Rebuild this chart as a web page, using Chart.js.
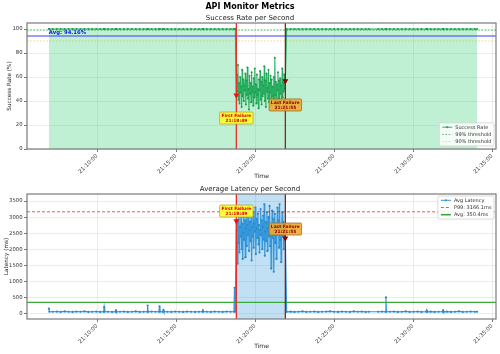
<!DOCTYPE html>
<html><head><meta charset="utf-8">
<script src="https://cdn.jsdelivr.net/npm/chart.js@4.4.0/dist/chart.umd.min.js"></script>
<style>
html,body{margin:0;padding:0;background:#fff;width:500px;height:354px;overflow:hidden;}
canvas{position:absolute;left:0;}
.t{position:absolute;left:0;width:500px;text-align:center;font-family:"DejaVu Sans";color:#000;white-space:nowrap;}
</style></head><body>
<canvas id="c1" width="500" height="180" style="top:0"></canvas>
<canvas id="c2" width="500" height="174" style="top:180px"></canvas>
<div class="t" style="top:2px;font-size:8px;line-height:9px;font-weight:bold;">API Monitor Metrics</div>
<div class="t" style="top:13.5px;font-size:7px;line-height:8px;color:#222;">Success Rate per Second</div>
<div class="t" style="top:184.5px;font-size:7px;line-height:8px;color:#222;">Average Latency per Second</div>
<script>
// ---- data (seconds after 21:00:00) ----
const tickValues = [600, 900, 1200, 1500, 1800, 2100];
const tickLabels = ['21:10:00','21:15:00','21:20:00','21:25:00','21:30:00','21:35:00'];
const successTicks = [0, 20, 40, 60, 80, 100];
const latencyTicks = [0, 500, 1000, 1500, 2000, 2500, 3000, 3500];

const preTimes = [417,419,432,447,462,477,492,507,522,537,552,567,582,597,612,625,627,629,642,657,670,672,674,687,702,717,732,747,762,777,790,792,794,807,822,835,837,839,850,852,854,867,882,897,912,927,942,957,972,987,1000,1002,1004,1017,1032,1047,1062,1077,1092,1107,1120,1122,1125];
const preSuccess = [100,100,100,100,100,100,100,100,100,100,
                    100,100,100,100,100,100,100,100,100,100,
                    100,100,100,100,100,100,100,100,100,100,
                    100,100,100,100,100,100,100,100,100,100,
                    100,100,100,100,100,100,100,100,100,100,
                    100,100,100,100,100,100,100,100,100,100,
                    100,100,100];
const preLatency = [150,55,55,60,50,65,55,50,60,55,70,50,55,60,50,55,200,55,55,50,55,100,55,55,60,50,55,65,50,55,55,250,55,60,55,55,225,60,55,110,55,55,50,60,55,50,60,55,50,55,55,90,55,55,50,60,55,50,60,55,55,800,60];

const failTimes = [1129,1131,1133,1135,1137,1139,1141,1143,1145,1147,1149,1151,1153,1155,1157,1159,1161,1163,1165,1167,1169,1171,1173,1175,1177,1179,1181,1183,1185,1187,1189,1191,1193,1195,1197,1199,1201,1203,1205,1207,1209,1211,1213,1215,1217,1219,1221,1223,1225,1227,1229,1231,1233,1235,1237,1239,1241,1243,1245,1247,1249,1251,1253,1255,1257,1259,1261,1263,1265,1267,1269,1271,1273,1275,1277,1279,1281,1283,1285,1287,1289,1291,1293,1295,1297,1299,1301,1303,1305,1307,1309,1311,1313,1315];
const failSuccess = [44,62,48,70,41,55,38,60,47,52,35,66,44,58,40,53,49,63,37,57,45,68,42,50,33,61,46,55,39,64,48,52,36,59,43,67,47,54,38,62,45,50,34,58,49,65,41,56,37,60,44,53,46,69,40,57,35,63,48,51,42,66,39,55,47,61,36,58,44,52,41,60,38,76,45,56,33,54,49,64,42,57,37,59,46,53,40,67,43,55,48,62,50,56];
const failLatency = [2850,2600,1550,2900,2200,3100,1900,2700,2400,3300,2000,2800,1700,2500,3000,2300,2900,1750,2650,3200,2100,2750,2450,3350,1950,2600,2850,2250,3050,1650,2700,2400,3150,2050,2800,2550,3300,1850,2650,2950,2350,3100,2150,2750,1900,2600,3250,2450,2900,2000,2700,3050,2300,3400,1800,2550,2850,2250,3150,1950,2650,3000,2400,3350,2100,2750,1400,2500,3200,2350,2950,1300,2600,3100,2200,2800,1700,2650,3300,2450,2900,2050,3400,2300,2750,1600,2550,3150,2400,2850,2000,2700,2500,2320];

const postTimes = [1320,1335,1350,1365,1380,1395,1410,1425,1440,1455,1470,1485,1500,1515,1530,1545,1560,1575,1590,1605,1620,1632,1668,1682,1695,1697,1699,1712,1727,1742,1757,1772,1787,1802,1817,1832,1850,1852,1854,1867,1882,1897,1912,1914,1916,1929,1944,1959,1974,1989,2004,2019,2034,2043];
const postSuccess = [100,100,100,100,100,100,100,100,100,100,
                     100,100,100,100,100,100,100,100,100,100,
                     100,100,100,100,100,100,100,100,100,100,
                     100,100,100,100,100,100,100,100,100,100,
                     100,100,100,100,100,100,100,100,100,100,
                     100,100,100,100];
const postLatency = [55,60,50,55,65,50,55,60,50,55,60,70,55,50,60,55,50,65,55,60,50,55,55,60,55,500,55,55,60,50,55,65,50,55,60,50,55,90,55,60,50,55,55,100,55,60,50,55,70,50,55,60,55,55];

const failureTimes = [1129, 1315];          // 21:18:49, 21:21:55
const failureLabels = ['First Failure\n21:18:49', 'Last Failure\n21:21:55'];
const successAvg = 94.16, threshold99 = 99, threshold90 = 90;
const latencyAvg = 350.4, latencyP99 = 3166.1;

const times = preTimes.concat(failTimes, postTimes);
const success = preSuccess.concat(failSuccess, postSuccess);
const latency = preLatency.concat(failLatency, postLatency);
const failSuccessAt = [failSuccess[0], failSuccess[failSuccess.length-1]];
const failLatencyAt = [failLatency[0], failLatency[failLatency.length-1]];

// ---- styling ----
const FONT = '"DejaVu Sans"';
Chart.defaults.font.family = FONT;
Chart.defaults.color = '#333';
const X_RANGE = [334, 2115];

function px(chart, axis, v){ return chart.scales[axis].getPixelForValue(v); }

function drawBox(ctx, cx, cy, text, fill, stroke, color){
  const lines = text.split('\n');
  ctx.font = 'bold 4.4px ' + FONT;
  const w = Math.max(...lines.map(l => ctx.measureText(l).width)) + 3.5;
  const lh = 5, h = lines.length*lh + 2;
  const x = cx - w/2, y = cy - h/2;
  ctx.beginPath();
  ctx.roundRect(x, y, w, h, 1);
  ctx.fillStyle = fill; ctx.fill();
  ctx.lineWidth = 0.8; ctx.strokeStyle = stroke; ctx.stroke();
  ctx.fillStyle = color; ctx.textAlign = 'center'; ctx.textBaseline = 'middle';
  lines.forEach((l,i) => ctx.fillText(l, cx, y + 1 + lh*(i+0.5)));
}

function drawLegend(chart, items, anchor){
  const ctx = chart.ctx, a = chart.chartArea;
  ctx.font = '5px ' + FONT;
  const tw = Math.max(...items.map(it => ctx.measureText(it.label).width));
  const w = 16 + tw + 2.5, rowH = 7.2, h = items.length*rowH + 1.5;
  const x = a.right - 2 - w;
  const y = anchor === 'bottom' ? a.bottom - 3 - h : a.top + 2;
  ctx.save();
  ctx.beginPath(); ctx.roundRect(x, y, w, h, 1.5);
  ctx.fillStyle = 'rgba(255,255,255,0.85)'; ctx.fill();
  ctx.strokeStyle = '#d0d0d0'; ctx.lineWidth = 0.8; ctx.stroke();
  items.forEach((it, i) => {
    const cy = y + 4.3 + i*rowH;
    ctx.beginPath(); ctx.strokeStyle = it.color; ctx.lineWidth = it.width; ctx.setLineDash(it.dash || []);
    ctx.moveTo(x + 3, cy); ctx.lineTo(x + 13, cy); ctx.stroke(); ctx.setLineDash([]);
    if (it.marker){ ctx.beginPath(); ctx.arc(x + 8, cy, 1.1, 0, Math.PI*2); ctx.fillStyle = it.color; ctx.fill(); }
    ctx.fillStyle = '#333'; ctx.textAlign = 'left'; ctx.textBaseline = 'middle';
    ctx.fillText(it.label, x + 16, cy + 0.3);
  });
  ctx.restore();
}

const overlay = {
  id: 'overlay',
  beforeDatasetsDraw(chart, args, o){
    if (!o.span) return;
    const ctx = chart.ctx, a = chart.chartArea;
    const x1 = px(chart,'x',o.span[0]), x2 = px(chart,'x',o.span[1]);
    ctx.save(); ctx.fillStyle = o.spanColor; ctx.fillRect(x1, a.top, x2-x1, a.bottom-a.top); ctx.restore();
  },
  afterDatasetsDraw(chart, args, o){
    const ctx = chart.ctx, a = chart.chartArea;
    ctx.save();
    ctx.beginPath(); ctx.rect(a.left, a.top, a.right-a.left, a.bottom-a.top); ctx.clip();
    o.hlines.forEach(h => {
      const y = px(chart,'y',h.value);
      ctx.beginPath(); ctx.strokeStyle = h.color; ctx.lineWidth = h.width; ctx.setLineDash(h.dash || []);
      ctx.moveTo(a.left, y); ctx.lineTo(a.right, y); ctx.stroke();
    });
    ctx.setLineDash([]);
    o.vlines.forEach(v => {
      const x = px(chart,'x',v.value);
      ctx.beginPath(); ctx.strokeStyle = v.color; ctx.lineWidth = v.width;
      ctx.moveTo(x, a.top); ctx.lineTo(x, a.bottom); ctx.stroke();
    });
    o.markers.forEach(m => {
      const x = px(chart,'x',m.x), y = px(chart,'y',m.y);
      ctx.beginPath(); ctx.moveTo(x-3, y-2.6); ctx.lineTo(x+3, y-2.6); ctx.lineTo(x, y+2.6); ctx.closePath();
      ctx.fillStyle = m.color; ctx.fill();
    });
    ctx.restore();
    ctx.save();
    if (o.avgText){
      ctx.font = 'bold 5.3px ' + FONT; ctx.fillStyle = '#1010ee'; ctx.textAlign = 'left'; ctx.textBaseline = 'bottom';
      ctx.fillText(o.avgText.text, px(chart,'x',o.avgText.x), px(chart,'y',o.avgText.y) - 0.3);
    }
    o.boxes.forEach(b => drawBox(ctx, px(chart,'x',b.x), px(chart,'y',b.y), b.text, b.fill, b.stroke, b.color));
    ctx.strokeStyle = '#7a7a7a'; ctx.lineWidth = 1.2;
    ctx.strokeRect(a.left, a.top, a.right-a.left, a.bottom-a.top);
    ctx.restore();
    drawLegend(chart, o.legend, o.legendAnchor);
  }
};

function xScale(height, titlePadBottom){
  return {
    type: 'linear', min: X_RANGE[0], max: X_RANGE[1],
    afterBuildTicks: s => { s.ticks = tickValues.map(v => ({value: v})); },
    afterFit: s => { s.height = height; },
    ticks: { autoSkip: false, minRotation: 45, maxRotation: 45, padding: 1, font: {size: 5.5}, color: '#333',
             callback: (v) => tickLabels[tickValues.indexOf(v)] },
    grid: { color: 'rgba(176,176,176,0.3)', lineWidth: 0.8, tickLength: 3, tickColor: '#555', tickWidth: 0.8 },
    border: { display: false },
    title: { display: true, text: 'Time', font: {size: 6}, color: '#222', padding: {top: 0, bottom: titlePadBottom} }
  };
}
function yScale(min, max, ticks, title, titlePadTop){
  return {
    min, max,
    afterBuildTicks: s => { s.ticks = ticks.map(v => ({value: v})); },
    afterFit: s => { s.width = 27; },
    ticks: { padding: 1.5, font: {size: 5.3}, color: '#333', callback: v => String(v) },
    grid: { color: 'rgba(176,176,176,0.3)', lineWidth: 0.8, tickLength: 3, tickColor: '#555', tickWidth: 0.8 },
    border: { display: false },
    title: { display: true, text: title, font: {size: 5.7}, color: '#222', padding: {top: titlePadTop, bottom: 0} }
  };
}

const common = {
  responsive: false, animation: false, devicePixelRatio: 1,
  plugins: { legend: {display: false}, tooltip: {enabled: false} },
  elements: { line: { tension: 0 } }
};

new Chart(document.getElementById('c1'), {
  type: 'line',
  data: { datasets: [{
    data: times.map((t,i) => ({x: t, y: success[i]})),
    borderColor: '#27ae60', borderWidth: 1.1, pointRadius: 1, pointBorderWidth: 0,
    pointBackgroundColor: '#1f9a50', fill: 'origin', backgroundColor: 'rgba(46,204,113,0.3)'
  }]},
  options: Object.assign({}, common, {
    layout: { padding: { top: 23, right: 4, left: 0, bottom: 0 } },
    scales: { x: xScale(31, 0.4), y: yScale(0, 105, successTicks, 'Success Rate (%)', 6.5) },
    plugins: Object.assign({}, common.plugins, { overlay: {
      hlines: [
        {value: threshold99, color: 'rgba(34,160,44,0.8)', width: 0.9, dash: [1.6,1.6]},
        {value: threshold90, color: 'rgba(255,165,0,0.55)', width: 0.9, dash: [1.6,1.6]},
        {value: successAvg, color: '#3a3aff', width: 1.1}
      ],
      vlines: [
        {value: failureTimes[0], color: '#e8302a', width: 1.3},
        {value: failureTimes[1], color: '#8b1010', width: 1.2}
      ],
      markers: [
        {x: failureTimes[0], y: failSuccessAt[0], color: '#ee1111'},
        {x: failureTimes[1], y: failSuccessAt[1], color: '#8b0000'}
      ],
      avgText: {text: 'Avg: ' + successAvg.toFixed(2) + '%', x: times[0], y: successAvg},
      boxes: [
        {x: failureTimes[0], y: 25.8, text: failureLabels[0], fill: 'rgba(255,255,40,0.9)', stroke: '#b8a830', color: '#e00000'},
        {x: failureTimes[1], y: 36.7, text: failureLabels[1], fill: 'rgba(240,170,50,0.9)', stroke: '#a0702a', color: '#8b0000'}
      ],
      legendAnchor: 'bottom',
      legend: [
        {label: 'Success Rate', color: '#27ae60', width: 1, marker: true},
        {label: '99% threshold', color: 'rgba(34,160,44,0.8)', width: 0.9, dash: [1.6,1.6]},
        {label: '90% threshold', color: 'rgba(255,165,0,0.55)', width: 0.9, dash: [1.6,1.6]}
      ]
    }})
  }),
  plugins: [overlay]
});

new Chart(document.getElementById('c2'), {
  type: 'line',
  data: { datasets: [{
    data: times.map((t,i) => ({x: t, y: latency[i]})),
    borderColor: '#3498db', borderWidth: 1.2, pointRadius: 1.1, pointBorderWidth: 0,
    pointBackgroundColor: '#2e86c8', fill: false
  }]},
  options: Object.assign({}, common, {
    layout: { padding: { top: 14, right: 4, left: 0, bottom: 0 } },
    scales: { x: xScale(35, 3.7), y: yScale(-170, 3720, latencyTicks, 'Latency (ms)', 2.7) },
    plugins: Object.assign({}, common.plugins, { overlay: {
      span: failureTimes, spanColor: 'rgba(52,152,219,0.3)',
      hlines: [
        {value: latencyP99, color: 'rgba(240,0,0,0.75)', width: 0.9, dash: [3,2]},
        {value: latencyAvg, color: '#3aa83a', width: 1.3}
      ],
      vlines: [
        {value: failureTimes[0], color: '#e8302a', width: 1.3},
        {value: failureTimes[1], color: '#8b1010', width: 1.2}
      ],
      markers: [
        {x: failureTimes[0], y: failLatencyAt[0], color: '#ee1111'},
        {x: failureTimes[1], y: failLatencyAt[1], color: '#8b0000'}
      ],
      boxes: [
        {x: failureTimes[0], y: 3190, text: failureLabels[0], fill: 'rgba(255,255,40,0.9)', stroke: '#b8a830', color: '#e00000'},
        {x: failureTimes[1], y: 2630, text: failureLabels[1], fill: 'rgba(240,170,50,0.9)', stroke: '#a0702a', color: '#8b0000'}
      ],
      legendAnchor: 'top',
      legend: [
        {label: 'Avg Latency', color: '#3498db', width: 1, marker: true},
        {label: 'P99: ' + latencyP99.toFixed(1) + 'ms', color: 'rgba(240,0,0,0.75)', width: 0.9, dash: [3,2]},
        {label: 'Avg: ' + latencyAvg.toFixed(1) + 'ms', color: '#3aa83a', width: 1.6}
      ]
    }})
  }),
  plugins: [overlay]
});
</script>
</body></html>
